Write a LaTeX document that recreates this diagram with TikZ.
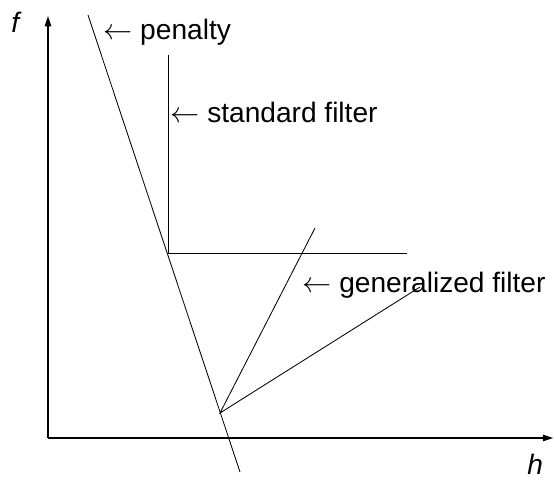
\documentclass[tikz,border=0pt]{standalone}
\usepackage{fontspec}
\setmainfont{Liberation Sans}
\usetikzlibrary{arrows.meta}

\begin{document}
\begin{tikzpicture}[
  axis/.style={line width=1pt, -{Triangle[length=2.6mm, width=1.6mm]}},
  curve/.style={line width=0.6pt, black},
  lbl/.style={anchor=base west, inner sep=0pt, font=\fontsize{20}{24}\selectfont},
  axlbl/.style={inner sep=0pt, font=\fontsize{20}{24}\selectfont\itshape}
]
\useasboundingbox (0,0) rectangle (13.85,12);

%% ── Axes ─────────────────────────────────────────────────────
\coordinate (org)  at ( 1.20,  1.05);
\coordinate (ytop) at ( 1.20, 11.60);
\coordinate (xend) at (13.83,  1.05);
\draw[axis] (org) -- (ytop);
\draw[axis] (org) -- (xend);
\node[axlbl] (fl) at ( 0.38, 11.45) {f};
\node[axlbl] (hl) at (13.38,  0.38) {h};

%% ── Penalty line ─────────────────────────────────────────────
\coordinate (pentop) at (2.20, 11.625);
\coordinate (penbot) at (6.00,  0.20);
\draw[curve] (pentop) -- (penbot);
\node[lbl] (penl) at (2.575, 11.00) {$\leftarrow$ penalty};

%% ── Standard filter ──────────────────────────────────────────
\coordinate (stdtop) at ( 4.20, 10.625);
\coordinate (stdc)   at ( 4.20,  5.675);
\coordinate (stdend) at (10.175, 5.675);
\draw[curve] (stdtop) -- (stdc) -- (stdend);
\node[lbl] (stdl) at (4.25, 8.925) {$\leftarrow$ standard filter};

%% ── Generalized filter ───────────────────────────────────────
\coordinate (genc)  at ( 5.50, 1.675);
\coordinate (genup) at ( 7.875, 6.30);
\coordinate (genlo) at (10.50, 4.825);
\draw[curve] (genup) -- (genc) -- (genlo);
\node[lbl] (genl) at (7.55, 4.70) {$\leftarrow$ generalized filter};

\end{tikzpicture}
\end{document}
